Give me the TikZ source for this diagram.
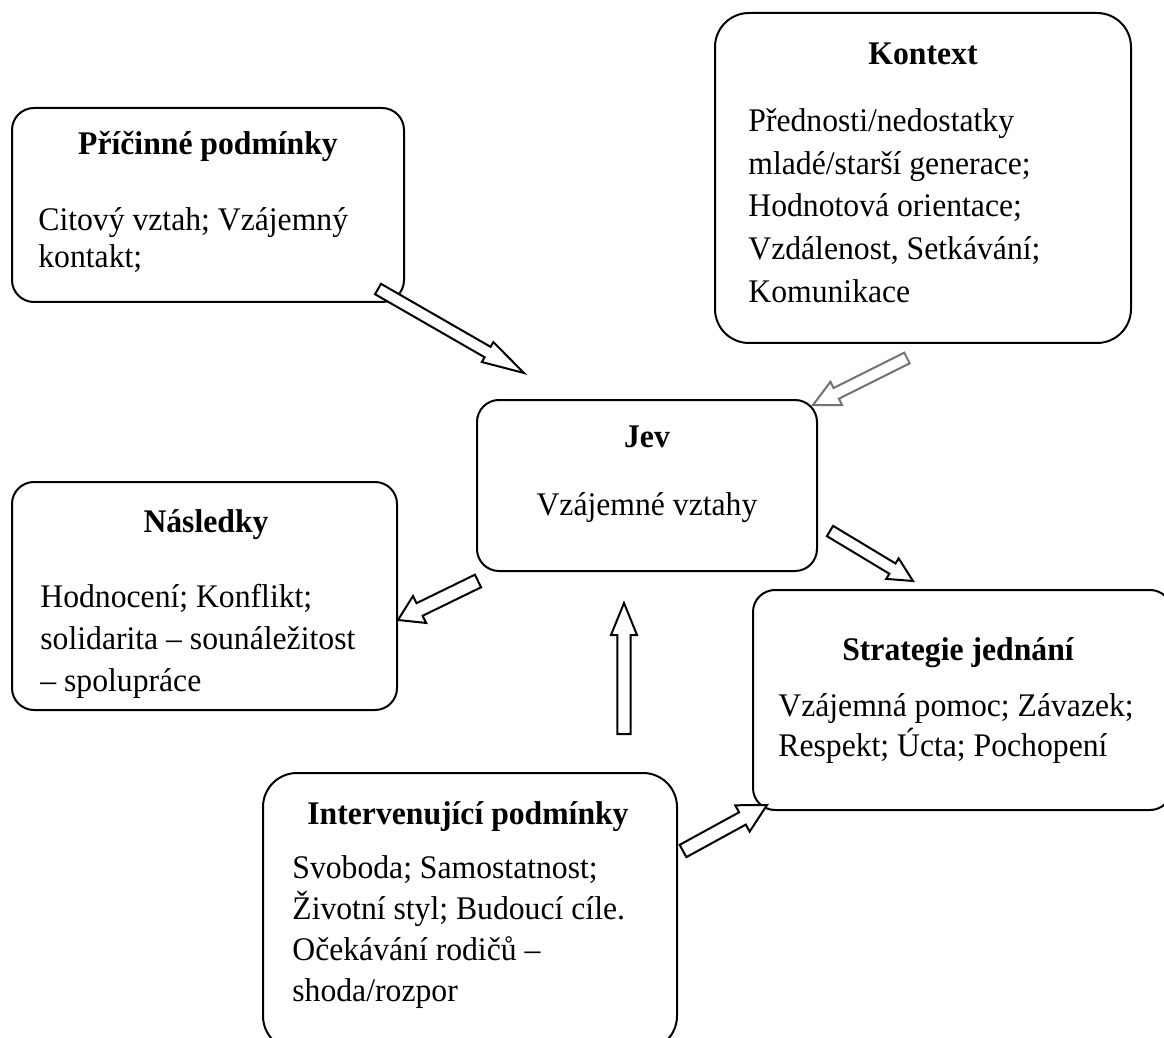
\documentclass[tikz,border=0pt]{standalone}
\usepackage{fontspec}
\setmainfont{Liberation Serif}[FakeStretch=0.96]
\usetikzlibrary{calc}

\tikzset{
  box/.style={draw, line width=1pt, rounded corners=11pt, inner sep=0pt},
  title/.style={anchor=base, inner sep=0pt, font=\fontsize{16.5pt}{20pt}\selectfont\bfseries},
  body/.style={anchor=base west, inner sep=0pt, font=\fontsize{16.5pt}{20pt}\selectfont},
  bodyc/.style={anchor=base, inner sep=0pt, font=\fontsize{16.5pt}{20pt}\selectfont},
  arrowbox/.style={line width=1pt, fill=white, line join=miter}
}

% hollow block arrow: [colour]{tail}{tip}{half shaft}{half head}{head length}
\newcommand{\blockarrow}[6][black]{%
  \coordinate (ah) at ($(#3)!#6!(#2)$);
  \draw[arrowbox, draw=#1] ($(#2)!#4!90:(#3)$) -- ($(ah)!#4!90:(#3)$)
    -- ($(ah)!#5!90:(#3)$) -- (#3) -- ($(ah)!#5!-90:(#3)$)
    -- ($(ah)!#4!-90:(#3)$) -- ($(#2)!#4!-90:(#3)$) -- cycle;
}

\begin{document}
\begin{tikzpicture}[x=0.5pt, y=-0.5pt]
    \clip (0,0) rectangle (1164,1038);

    % Boxy
    \node[box, minimum width=196pt, minimum height=97pt] (pricinne) at (208,205) {};
    \node[box, rounded corners=17pt, minimum width=208pt, minimum height=165pt] (kontext) at (923,178) {};
    \node[box, minimum width=170pt, minimum height=85.5pt] (jev) at (647,485.5) {};
    \node[box, minimum width=192.5pt, minimum height=114pt] (nasledky) at (204.5,596) {};
    \node[box, minimum width=209.5pt, minimum height=110pt] (strategie) at (962.5,700) {};
    \node[box, rounded corners=17pt, minimum width=207pt, minimum height=138.5pt] (interv) at (470,911.5) {};

    % Nadpisy
    \node[title] (pricinne-t) at (208,155) {Příčinné podmínky};
    \node[title] (kontext-t) at (923,65) {Kontext};
    \node[title] (jev-t) at (647,447) {Jev};
    \node[title] (nasledky-t) at (206,532) {Následky};
    \node[title] (strategie-t) at (958,660) {Strategie jednání};
    \node[title] (interv-t) at (468,824) {Intervenující podmínky};

    % Texty
    \foreach \t [count=\i from 0] in {Citový vztah; Vzájemný, kontakt;}
        \node[body] (pricinne-\i) at (38,{231+37*\i}) {\t};
    \foreach \t [count=\i from 0] in {Přednosti/nedostatky, mladé/starší generace;,
        Hodnotová orientace;, {Vzdálenost, Setkávání;}, Komunikace}
        \node[body] (kontext-\i) at (748,{132+42.5*\i}) {\t};
    \node[bodyc] (jev-0) at (647,515) {Vzájemné vztahy};
    \foreach \t/\y [count=\i from 0] in {Hodnocení; Konflikt;/607,
        solidarita – sounáležitost/649, – spolupráce/691}
        \node[body] (nasledky-\i) at (40,\y) {\t};
    \foreach \t [count=\i from 0] in {Vzájemná pomoc; Závazek;, Respekt; Úcta; Pochopení}
        \node[body] (strategie-\i) at (778,{716+40*\i}) {\t};
    \foreach \t [count=\i from 0] in {Svoboda; Samostatnost;, Životní styl; Budoucí cíle.,
        Očekávání rodičů –, shoda/rozpor}
        \node[body] (interv-\i) at (292,{878+41.3*\i}) {\t};

    % Konce sipek
    \coordinate (pricinne-out) at (378,289);
    \coordinate (jev-in1) at (524,373);
    \coordinate (kontext-out) at (907,358);
    \coordinate (jev-in2) at (813,405);
    \coordinate (jev-out1) at (478,581);
    \coordinate (nasledky-in) at (398,620);
    \coordinate (interv-out1) at (624,734);
    \coordinate (jev-in3) at (624,603);
    \coordinate (jev-out2) at (830,531);
    \coordinate (strategie-in1) at (913,581);
    \coordinate (interv-out2) at (683,851);
    \coordinate (strategie-in2) at (767,805);

    % Sipky
    \blockarrow{pricinne-out}{jev-in1}{3pt}{5.75pt}{21pt}
    \blockarrow[black!55]{kontext-out}{jev-in2}{3pt}{6.5pt}{13pt}
    \blockarrow{jev-out1}{nasledky-in}{3.5pt}{7.5pt}{12pt}
    \blockarrow{interv-out1}{jev-in3}{3.3pt}{6.5pt}{16pt}
    \blockarrow{jev-out2}{strategie-in1}{3pt}{6pt}{12pt}
    \blockarrow{interv-out2}{strategie-in2}{3.5pt}{7.5pt}{14pt}
\end{tikzpicture}
\end{document}
